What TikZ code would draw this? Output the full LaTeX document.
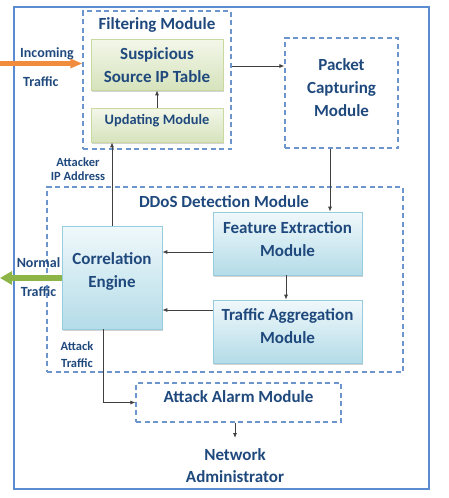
\documentclass[tikz,border=0pt]{standalone}
\usepackage{fontspec}
\setmainfont{Carlito}
\usetikzlibrary{arrows.meta,shadows,shadings}
\definecolor{txt}{RGB}{31,73,125}
\definecolor{dashblue}{RGB}{108,148,205}
\definecolor{outerblue}{RGB}{91,139,208}
\definecolor{gtop}{RGB}{243,247,234}
\definecolor{gbot}{RGB}{214,227,188}
\definecolor{gbord}{RGB}{200,218,160}
\definecolor{btop}{RGB}{240,248,251}
\definecolor{bbot}{RGB}{180,220,232}
\definecolor{bbord}{RGB}{150,205,222}
\definecolor{orng}{RGB}{240,140,60}
\definecolor{grn}{RGB}{140,180,70}
\tikzset{
  every node/.style={font=\bfseries, text=txt, align=center},
  dashbox/.style={draw=dashblue, line width=1.2pt, dash pattern=on 5pt off 3.5pt},
  greenbox/.style={draw=gbord, line width=0.7pt, top color=gtop, bottom color=gbot,
    drop shadow={shadow xshift=0.8pt, shadow yshift=-1.5pt, opacity=0.35}},
  bluebox/.style={draw=bbord, line width=0.7pt, top color=btop, bottom color=bbot,
    drop shadow={shadow xshift=0.8pt, shadow yshift=-1.5pt, opacity=0.35}},
  big/.style={font=\fontsize{17}{23}\selectfont\bfseries, inner sep=0pt},
  mid/.style={font=\fontsize{14}{29}\selectfont\bfseries, inner sep=0pt},
  small/.style={font=\fontsize{12.5}{14}\selectfont\bfseries, inner sep=0pt},
  conn/.style={draw=black!75, line width=0.8pt, -{Latex[length=5pt,width=4pt]}},
}
\begin{document}
\begin{tikzpicture}[x=1pt,y=-1pt]
\useasboundingbox (0,0) rectangle (449,498);
\draw[outerblue, line width=1.8pt] (14,7) rectangle (429,489);
% Filtering module
\node[dashbox, minimum width=148pt, minimum height=138pt] (filt) at (157,80) {};
\node[big] (filttitle) at (157,25) {Filtering Module};
\node[greenbox, minimum width=132pt, minimum height=51pt] (table) at (157,64.5) {};
\node[big] (tabletxt) at (157,65) {Suspicious\\Source IP Table};
\node[greenbox, minimum width=132pt, minimum height=34pt] (upd) at (157,125) {};
\node[font=\fontsize{14.4}{17}\selectfont\bfseries, inner sep=0pt] (updtxt) at (157,120.5) {Updating Module};
% Packet capturing
\node[dashbox, minimum width=113pt, minimum height=110pt] (pkt) at (341.5,93) {};
\node[big] (pkttxt) at (341.5,88) {Packet\\Capturing\\Module};
% DDoS detection
\node[dashbox, minimum width=356pt, minimum height=185pt] (ddos) at (225,279.5) {};
\node[big] (ddostitle) at (224,202) {DDoS Detection Module};
\node[bluebox, minimum width=100pt, minimum height=103pt] (corr) at (112,277.5) {};
\node[big] (corrtxt) at (112,271) {Correlation\\Engine};
\node[bluebox, minimum width=149pt, minimum height=63pt] (fe) at (287.5,243.5) {};
\node[big] (fetxt) at (287.5,239) {Feature Extraction\\Module};
\node[bluebox, minimum width=149pt, minimum height=63pt] (ta) at (287.5,331.5) {};
\node[big] (tatxt) at (287.5,326) {Traffic Aggregation\\Module};
% Alarm
\node[dashbox, minimum width=205pt, minimum height=39pt] (alarm) at (238.5,402.5) {};
\node[big] (alarmtxt) at (238.5,397) {Attack Alarm Module};
\node[font=\fontsize{17}{22}\selectfont\bfseries, inner sep=0pt] (admin) at (235,466) {Network\\Administrator};
% labels
\node[mid, align=left, anchor=west] (inlab) at (20,67.5) {Incoming\\\hspace*{3pt}Traffic};
\node[mid] (normlab) at (38.5,277.5) {Normal\\Traffic};
\node[small] (atklab) at (78,169) {Attacker\\IP Address};
\node[font=\fontsize{12.5}{17}\selectfont\bfseries, inner sep=0pt] (attlab) at (77,354.5) {Attack\\Traffic};
% connectors
\coordinate (inS) at (0,63.5);
\draw[orng, line width=4.5pt, -{Triangle[length=12pt,width=9pt]}] (inS) -- (filt.west |- inS);
\coordinate (normE) at (0,278);
\draw[grn, line width=5.5pt, -{Triangle[length=12pt,width=13pt]}] (corr.west |- normE) -- (normE);
\draw[conn] (upd.north) -- (table.south);
\draw[conn] (filt.east |- 0,66) -- (pkt.west |- 0,66);
\draw[conn] (pkt.south -| 330,0) -- (fe.north -| 330,0);
\draw[conn] (fe.west |- 0,252) -- (corr.east |- 0,252);
\draw[conn] (ta.west |- 0,310) -- (corr.east |- 0,310);
\draw[conn] (fe.south -| 286,0) -- (ta.north -| 286,0);
\draw[conn] (corr.north -| 112,0) -- (upd.south -| 112,0);
\draw[conn] (corr.south -| 103,0) |- (alarm.west);
\draw[conn] (alarm.south -| 235,0) -- (235,438);
\end{tikzpicture}
\end{document}
